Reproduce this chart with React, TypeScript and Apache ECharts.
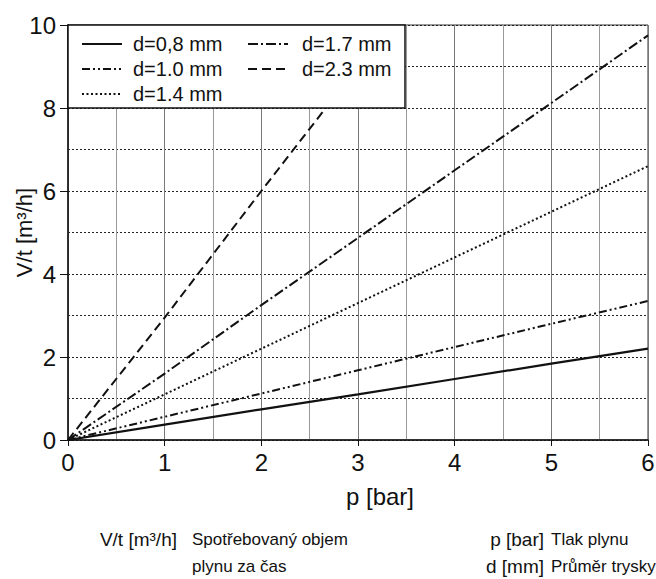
import React, { useEffect, useRef } from "react";
import * as echarts from "echarts";

const seriesNames = ["d=0,8 mm", "d=1.0 mm", "d=1.4 mm", "d=1.7 mm", "d=2.3 mm"];
const d08: number[][] = [[0, 0], [1, 0.37], [2, 0.74], [3, 1.1], [4, 1.47], [5, 1.84], [6, 2.2]];
const d10: number[][] = [[0, 0], [1, 0.56], [2, 1.12], [3, 1.68], [4, 2.24], [5, 2.8], [6, 3.35]];
const d14: number[][] = [[0, 0], [1, 1.1], [2, 2.2], [3, 3.3], [4, 4.4], [5, 5.5], [6, 6.6]];
const d17: number[][] = [[0, 0], [1, 1.6], [2, 3.25], [3, 4.87], [4, 6.5], [5, 8.12], [6, 9.75]];
const d23: number[][] = [[0, 0], [1, 2.95], [2, 6.0], [3, 9.0], [3.33, 10]];
const xTicks = [0, 1, 2, 3, 4, 5, 6];
const yTicks = [0, 2, 4, 6, 8, 10];

const FONT = "Liberation Sans, Arial, sans-serif";
const dashes: (number[] | "solid")[] = ["solid", [8, 3, 2, 3, 2, 3], [2, 2.5], [10, 3, 2, 3], [9, 5]];

export default function App() {
  const ref = useRef<HTMLDivElement>(null);
  useEffect(() => {
    if (!ref.current) return;
    const chart = echarts.init(ref.current, undefined, { renderer: "svg" });
    const data = [d08, d10, d14, d17, d23];
    const series = data.map((d, i) => ({
      name: seriesNames[i],
      type: "line",
      data: d,
      symbol: "none",
      clip: true,
      z: 2,
      lineStyle: { color: "#111", width: i === 0 ? 2.2 : 2, type: dashes[i] },
    }));

    // legend positions (layout only)
    const legX = 68, legY = 25, legW = 337, legH = 83;
    const items = [
      { idx: 0, lx: 82, tx: 133, y: 44 },
      { idx: 1, lx: 82, tx: 133, y: 69 },
      { idx: 2, lx: 82, tx: 133, y: 94 },
      { idx: 3, lx: 248, tx: 302, y: 44 },
      { idx: 4, lx: 248, tx: 302, y: 69 },
    ];
    const legendEls: any[] = [
      {
        type: "rect",
        z: 100,
        shape: { x: legX, y: legY, width: legW, height: legH },
        style: { fill: "#fff", stroke: "#111", lineWidth: 1.5 },
      },
    ];
    items.forEach((it) => {
      const dsh = dashes[it.idx];
      legendEls.push({
        type: "line",
        z: 101,
        shape: { x1: it.lx, y1: it.y, x2: it.lx + 40, y2: it.y },
        style: { stroke: "#111", lineWidth: it.idx === 0 ? 2.2 : 2, lineDash: dsh === "solid" ? null : dsh },
      });
      legendEls.push({
        type: "text",
        z: 101,
        x: it.tx,
        y: it.y,
        style: { text: seriesNames[it.idx], fontSize: 20, fontFamily: FONT, fill: "#111", verticalAlign: "middle", align: "left" },
      });
    });

    const bottomTexts = [
      { t: "V/t [m³/h]", x: 177, y: 539, a: "right", s: 19 },
      { t: "Spotřebovaný objem", x: 192, y: 539, a: "left", s: 17 },
      { t: "plynu za čas", x: 192, y: 566, a: "left", s: 17 },
      { t: "p [bar]", x: 544, y: 539, a: "right", s: 19 },
      { t: "Tlak plynu", x: 551, y: 539, a: "left", s: 17 },
      { t: "d [mm]", x: 544, y: 566, a: "right", s: 19 },
      { t: "Průměr trysky", x: 551, y: 566, a: "left", s: 17 },
    ];
    const bottomEls = bottomTexts.map((b) => ({
      type: "text",
      z: 100,
      x: b.x,
      y: b.y,
      style: { text: b.t, fontSize: b.s, fontFamily: FONT, fill: "#111", verticalAlign: "middle", align: b.a },
    }));

    chart.setOption({
      animation: false,
      backgroundColor: "#fff",
      grid: {
        left: 68, right: 8, top: 25, bottom: 139,
        outerBoundsMode: "none",
        containLabel: false,
        show: true, borderColor: "#333", borderWidth: 1, backgroundColor: "transparent",
      },
      xAxis: {
        type: "value",
        min: xTicks[0],
        max: xTicks[xTicks.length - 1],
        interval: 1,
        name: "p [bar]",
        nameLocation: "middle",
        nameGap: 44,
        nameMoveOverlap: false,
        nameTextStyle: { fontSize: 24, fontFamily: FONT, color: "#111", padding: [0, 0, 0, 44] },
        axisLine: { show: true, onZero: false, lineStyle: { color: "#111", width: 1.5 } },
        axisTick: { show: true, length: 6, lineStyle: { color: "#111" } },
        axisLabel: { fontSize: 24, fontFamily: FONT, color: "#111", margin: 10 },
        splitLine: { show: true, lineStyle: { color: "#777", width: 1, type: "solid" } },
        minorTick: { show: false, splitNumber: 2 },
        minorSplitLine: { show: true, lineStyle: { color: "#999", width: 1, type: "solid" } },
      },
      yAxis: {
        type: "value",
        min: yTicks[0],
        max: yTicks[yTicks.length - 1],
        interval: 2,
        name: "V/t [m³/h]",
        nameLocation: "middle",
        nameRotate: 90,
        nameGap: 33,
        nameMoveOverlap: false,
        nameTextStyle: { fontSize: 22, fontFamily: FONT, color: "#111" },
        axisLine: { show: true, onZero: false, lineStyle: { color: "#111", width: 1.5 } },
        axisTick: { show: true, length: 8, lineStyle: { color: "#111" } },
        axisLabel: { fontSize: 24, fontFamily: FONT, color: "#111", margin: 12 },
        splitLine: { show: true, lineStyle: { color: "#222", width: 1, type: [2, 2] } },
        minorTick: { show: false, splitNumber: 2 },
        minorSplitLine: { show: true, lineStyle: { color: "#222", width: 1, type: [2, 2] } },
      },
      series,
      graphic: [
        { type: "group", z: 100, children: legendEls },
        { type: "group", z: 100, children: bottomEls },
      ],
    });
    return () => chart.dispose();
  }, []);
  return <div ref={ref} style={{ width: 656, height: 579, position: "absolute", left: 0, top: 0 }} />;
}
